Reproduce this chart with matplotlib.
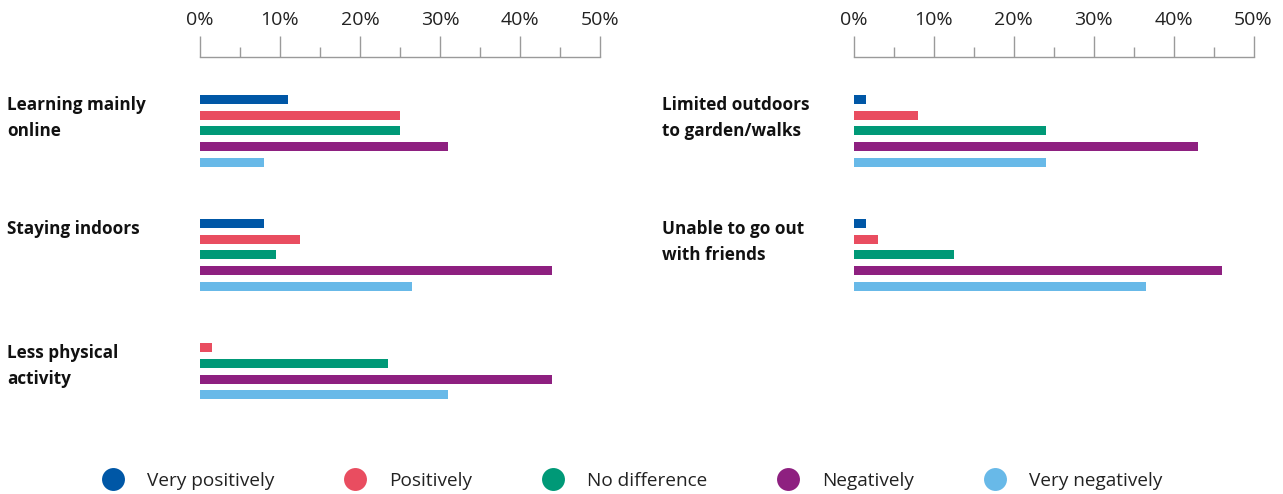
import matplotlib
matplotlib.use("Agg")
import matplotlib.pyplot as plt
from matplotlib.lines import Line2D
from matplotlib.ticker import MultipleLocator, PercentFormatter
import matplotlib.transforms as mtransforms

plt.rcParams["font.family"] = ["Open Sans", "DejaVu Sans"]

# Response options (legend order, also the bar order inside each group)
responses = ["Very positively", "Positively", "No difference", "Negatively", "Very negatively"]
colors = ["#0057a6", "#e94d60", "#009977", "#8e2080", "#68b9e8"]

# Left panel
left_labels = ["Learning mainly\nonline", "Staying indoors", "Less physical\nactivity"]
learning_online = [11, 25, 25, 31, 8]
staying_indoors = [8, 12.5, 9.5, 44, 26.5]
less_physical = [0, 1.5, 23.5, 44, 31]

# Right panel
right_labels = ["Limited outdoors\nto garden/walks", "Unable to go out\nwith friends"]
limited_outdoors = [1.5, 8, 24, 43, 24]
unable_friends = [1.5, 3, 12.5, 46, 36.5]

W, H = 1283, 494
fig = plt.figure(figsize=(W / 100, H / 100), dpi=100)

PX_UNIT = 15.75          # pixels between neighbouring bars
GROUP_STEP = 124 / PX_UNIT
AX_TOP_PX, AX_BOT_PX = 56.7, 440
Y_TOP = -(99.5 - AX_TOP_PX) / PX_UNIT
Y_BOT = Y_TOP + (AX_BOT_PX - AX_TOP_PX) / PX_UNIT
GREY = "#9a9a9a"
LABEL_FS = 12.3
TICK_FS = 14
LEGEND_FS = 13.7


def panel(x_px, label_x_px, labels, groups):
    ax = fig.add_axes([x_px / W, 1 - AX_BOT_PX / H, 400 / W, (AX_BOT_PX - AX_TOP_PX) / H])
    for g, (label, values) in enumerate(zip(labels, groups)):
        base = g * GROUP_STEP
        slot = 0
        # zero responses are left out and the rest close up
        for v, c in zip(values, colors):
            if v <= 0:
                continue
            ax.barh(base + slot, v, height=9 / PX_UNIT, color=c, linewidth=0)
            slot += 1
        trans = mtransforms.blended_transform_factory(fig.transFigure, ax.transData)
        for k, line in enumerate(label.split("\n")):
            ax.text(label_x_px / W, base + (10 + 26 * k) / PX_UNIT, line, transform=trans,
                    ha="left", va="baseline", fontsize=LABEL_FS, fontweight="bold",
                    color="#111111")

    ax.set_xlim(0, 50)
    ax.set_ylim(Y_BOT, Y_TOP)
    ax.xaxis.set_major_locator(MultipleLocator(10))
    ax.xaxis.set_minor_locator(MultipleLocator(5))
    ax.xaxis.set_major_formatter(PercentFormatter(decimals=0))
    ax.xaxis.tick_top()
    ax.tick_params(axis="x", which="major", direction="out", length=15, width=1.0,
                   color=GREY, pad=5, labelsize=TICK_FS, labelcolor="#222222")
    ax.tick_params(axis="x", which="minor", direction="out", length=7.5, width=1.0, color=GREY)
    ax.set_yticks([])
    for s in ["left", "right", "bottom"]:
        ax.spines[s].set_visible(False)
    ax.spines["top"].set_color(GREY)
    ax.spines["top"].set_linewidth(1.0)
    ax.patch.set_alpha(0)
    return ax


panel(200, 7, left_labels, [learning_online, staying_indoors, less_physical])
panel(853.5, 662, right_labels, [limited_outdoors, unable_friends])

handles = [Line2D([], [], linestyle="none", marker="o", markersize=16.5,
                  markerfacecolor=c, markeredgewidth=0) for c in colors]
fig.legend(handles, responses, loc="center left", ncol=5, frameon=False,
           bbox_to_anchor=((113 - 10.5) / W, 1 - 481 / H), borderpad=0, borderaxespad=0,
           handlelength=1.1, handletextpad=1.24, columnspacing=3.7, fontsize=LEGEND_FS,
           labelcolor="#222222")

fig.savefig("out.png", dpi=100)
